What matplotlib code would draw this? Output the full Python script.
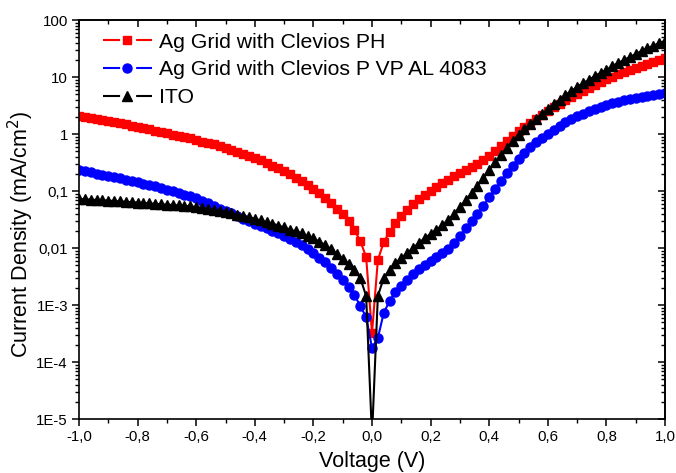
import numpy as np
import matplotlib
matplotlib.use("Agg")
import matplotlib.pyplot as plt
from matplotlib.ticker import LogLocator, NullFormatter, MultipleLocator

plt.rcParams['font.family'] = ['Liberation Sans', 'DejaVu Sans']

# Voltage sweep, -1 V to +1 V in 20 mV steps
voltage = np.round(np.linspace(-1.0, 1.0, 101), 2)

# Current density (mA/cm^2)
j_ph = [
    2.07, 1.99, 1.91, 1.83, 1.76, 1.69, 1.62, 1.56, 1.47, 1.38,
    1.33, 1.27, 1.22, 1.15, 1.08, 1.04, 0.98, 0.92, 0.885, 0.834,
    0.785, 0.738, 0.695, 0.655, 0.616, 0.568, 0.524, 0.483, 0.446, 0.411,
    0.379, 0.343, 0.310, 0.280, 0.253, 0.224, 0.195, 0.169, 0.147, 0.127,
    0.108, 0.0904, 0.0754, 0.0604, 0.0483, 0.0395, 0.0298, 0.0207, 0.0133, 0.00695,
    0.000323,
    0.00615, 0.0127, 0.0191, 0.0275, 0.0364, 0.0464, 0.0592, 0.0724, 0.0851, 0.100,
    0.1175, 0.138, 0.156, 0.183, 0.207, 0.234, 0.264, 0.298, 0.350, 0.411,
    0.503, 0.616, 0.754, 0.922, 1.13, 1.33, 1.56, 1.83, 2.15, 2.53,
    2.98, 3.36, 3.95, 4.46, 5.03, 5.68, 6.41, 7.24, 8.17, 9.22,
    10.0, 11.3, 12.2, 13.3, 14.4, 15.6, 16.9, 18.3, 19.9, 21.5,
]

j_al4083 = [
    0.234, 0.222, 0.212, 0.202, 0.192, 0.183, 0.175, 0.166, 0.158, 0.151,
    0.144, 0.135, 0.127, 0.120, 0.113, 0.106, 0.100, 0.0941, 0.0868, 0.0801,
    0.0739, 0.0668, 0.0604, 0.0546, 0.0493, 0.0446, 0.0403, 0.0364, 0.0329, 0.0298,
    0.0269, 0.0243, 0.0220, 0.0199, 0.0180, 0.0162, 0.0144, 0.0127, 0.0111, 0.00960,
    0.00817, 0.00681, 0.00557, 0.00446, 0.00350, 0.00275, 0.00207, 0.00150, 0.000960, 0.000615,
    0.000176,
    0.000264, 0.000724, 0.00118, 0.00169, 0.00215, 0.00275, 0.00350, 0.00428, 0.00503, 0.00591,
    0.00695, 0.00817, 0.00960, 0.0122, 0.0162, 0.0224, 0.0298, 0.0395, 0.0546, 0.0785,
    0.108, 0.150, 0.207, 0.275, 0.364, 0.464, 0.592, 0.724, 0.851, 1.00,
    1.17, 1.38, 1.62, 1.83, 2.07, 2.24, 2.53, 2.75, 2.98, 3.23,
    3.50, 3.64, 3.95, 4.11, 4.28, 4.46, 4.64, 4.83, 5.03, 5.24,
]

j_ito = [
    0.0724, 0.0715, 0.0706, 0.0695, 0.0687, 0.0679, 0.0668, 0.0658, 0.0647, 0.0637,
    0.0626, 0.0616, 0.0606, 0.0596, 0.0586, 0.0577, 0.0568, 0.0557, 0.0546, 0.0535,
    0.0524, 0.0503, 0.0483, 0.0464, 0.0446, 0.0428, 0.0411, 0.0387, 0.0364, 0.0343,
    0.0323, 0.0304, 0.0286, 0.0269, 0.0248, 0.0229, 0.0211, 0.0195, 0.0180, 0.0162,
    0.0147, 0.0130, 0.0113, 0.00960, 0.00785, 0.00641, 0.00524, 0.00411, 0.00298, 0.00144,
    5e-6,
    0.00144, 0.00298, 0.00411, 0.00546, 0.00668, 0.00817, 0.0100, 0.0122, 0.0150, 0.0176,
    0.0207, 0.0253, 0.0310, 0.0395, 0.0524, 0.0695, 0.0922, 0.122, 0.169, 0.234,
    0.323, 0.428, 0.568, 0.754, 0.960, 1.22, 1.50, 1.83, 2.24, 2.75,
    3.36, 3.95, 4.83, 5.68, 6.68, 7.85, 8.86, 10.4, 11.8, 13.3,
    15.6, 17.6, 19.9, 22.4, 25.3, 28.6, 32.3, 35.0, 39.5, 42.8,
]

series_labels = ["Ag Grid with Clevios PH", "Ag Grid with Clevios P VP AL 4083", "ITO"]

x_ticks = [-1.0, -0.8, -0.6, -0.4, -0.2, 0.0, 0.2, 0.4, 0.6, 0.8, 1.0]
x_tick_labels = ["-1,0", "-0,8", "-0,6", "-0,4", "-0,2", "0,0", "0,2", "0,4", "0,6", "0,8", "1,0"]
y_ticks = [1e-5, 1e-4, 1e-3, 1e-2, 1e-1, 1, 10, 100]
y_tick_labels = ["1E-5", "1E-4", "1E-3", "0,01", "0,1", "1", "10", "100"]

W, H = 676, 473
fig = plt.figure(figsize=(W / 100, H / 100), dpi=100)
ax = fig.add_axes([79 / W, 1 - 419 / H, 586 / W, 399 / H])

ax.plot(voltage, j_ph, color="#ff0000", marker="s", markersize=5.5, lw=1.5,
        label=series_labels[0])
ax.plot(voltage, j_al4083, color="#0000ff", marker="o", markersize=6.5, lw=1.5,
        label=series_labels[1])
ax.plot(voltage, j_ito, color="black", marker="^", markersize=7, lw=1.5,
        label=series_labels[2])

ax.set_yscale("log")
ax.set_xlim(-1.0, 1.0)
ax.set_ylim(1e-5, 100)

ax.set_xticks(x_ticks, labels=x_tick_labels)
ax.xaxis.set_minor_locator(MultipleLocator(0.1))
ax.set_yticks(y_ticks, labels=y_tick_labels)
ax.yaxis.set_minor_locator(LogLocator(base=10, subs=np.arange(2, 10), numticks=100))
ax.yaxis.set_minor_formatter(NullFormatter())

for s in ax.spines.values():
    s.set_linewidth(1.2)
ax.tick_params(which="major", direction="out", length=5, width=1.1, labelsize=10.8, pad=3)
ax.tick_params(which="minor", direction="out", length=3, width=1.0)

# mirrored ticks on top and right pointing inward
top = ax.secondary_xaxis("top")
top.set_xticks(x_ticks)
top.xaxis.set_minor_locator(MultipleLocator(0.1))
top.tick_params(which="major", direction="in", length=5, width=1.1, labeltop=False)
top.tick_params(which="minor", direction="in", length=3, width=1.0)
top.spines["top"].set_linewidth(1.2)

right = ax.secondary_yaxis("right")
right.set_yticks(y_ticks)
right.yaxis.set_minor_locator(LogLocator(base=10, subs=np.arange(2, 10), numticks=100))
right.yaxis.set_minor_formatter(NullFormatter())
right.tick_params(which="major", direction="in", length=5, width=1.1, labelright=False)
right.tick_params(which="minor", direction="in", length=3, width=1.0)
right.spines["right"].set_linewidth(1.2)

ax.set_xlabel("Voltage (V)", fontsize=15.5, labelpad=5)
ax.set_ylabel("Current Density (mA/cm$^2$)", fontsize=15.5)
ax.yaxis.set_label_coords(-0.073, 0.464)

leg = ax.legend(loc="upper left", bbox_to_anchor=(0.041, 0.968), frameon=False,
                fontsize=15.3, handlelength=2.3, handletextpad=0.33, labelspacing=0.41,
                borderaxespad=0, borderpad=0, numpoints=1)
# broken handle line: segment, marker, segment
for hl in leg.get_lines():
    hl.set_linestyle((0, (8.2, 7.7)))

fig.savefig("out.png", dpi=100)
